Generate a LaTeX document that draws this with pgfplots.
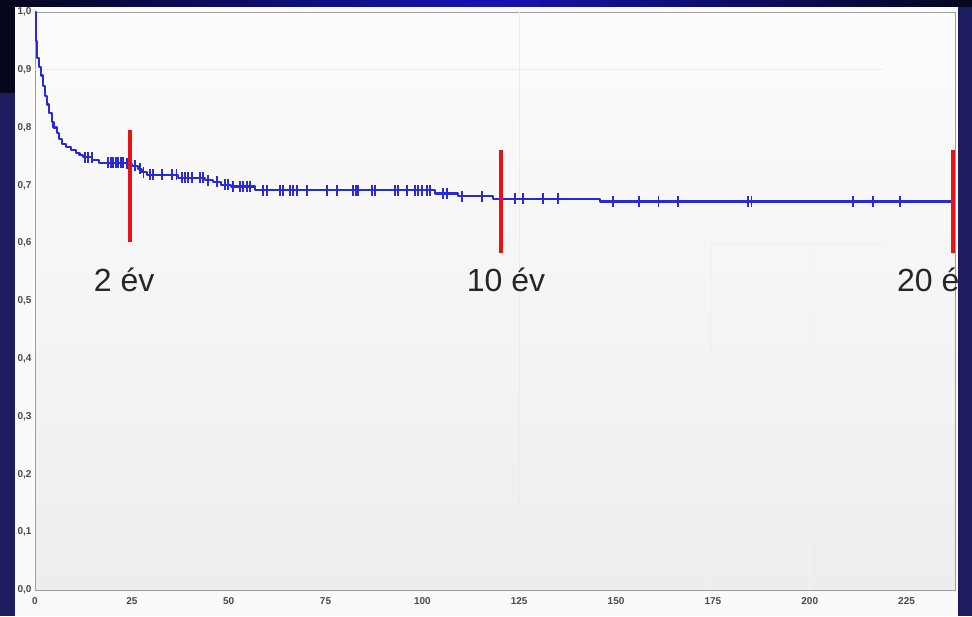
\documentclass[border=0pt]{standalone}
\usepackage{pgfplots}
\pgfplotsset{compat=1.18}
\usepackage{fontspec}
\setmainfont{Liberation Sans}
\setsansfont{Liberation Sans}
\definecolor{navyA}{HTML}{1C1C5E}
\definecolor{navyB}{HTML}{06061C}
\definecolor{bandblue}{HTML}{1414B4}
\definecolor{kmblue}{HTML}{2A2AD8}
\definecolor{redline}{HTML}{E81414}
\definecolor{ticktext}{HTML}{4A4A4A}
\begin{document}
\begin{tikzpicture}[x=1pt,y=1pt]
\path[use as bounding box, clip] (0,0) rectangle (972,616);
\fill[navyA] (0,0) rectangle (972,616);
\shade[left color=navyB, right color=navyB, middle color=bandblue] (0,606) rectangle (972,616);
\fill[white!96!gray] (15,0) rectangle (958,609);
\begin{axis}[
  at={(35pt,26pt)}, anchor=south west,
  width=920pt, height=578pt, scale only axis,
  xmin=0, xmax=237.5, ymin=0, ymax=1,
  xtick={0,25,50,75,100,125,150,175,200,225},
  ytick={0,0.1,0.2,0.3,0.4,0.5,0.6,0.7,0.8,0.9,1.0},
  major tick length=0pt,
  axis line style={gray!75, line width=0.9pt},
  axis background/.style={shade, top color=white!98!gray, bottom color=white!86!gray},
  tick label style={font=\fontsize{10}{11}\selectfont\bfseries, text=ticktext},
  /pgf/number format/assume math mode=true,
  yticklabel style={/pgf/number format/.cd, fixed, fixed zerofill, precision=1, use comma},
  xticklabel style={yshift=-4pt},
  clip=false,
]
% faint background lines
\draw[gray!15, line width=0.8pt] (axis cs:0,0.9) -- (axis cs:219,0.9);
\draw[gray!15, line width=0.8pt] (axis cs:125,1) -- (axis cs:125,0.12);
\draw[gray!12, line width=0.8pt] (axis cs:174.5,0.6) -- (axis cs:174.5,0);
\draw[gray!12, line width=0.8pt] (axis cs:174.5,0.6) -- (axis cs:219,0.6);
\draw[gray!10, line width=0.8pt] (axis cs:200,0.6) -- (axis cs:200,0);
% Kaplan-Meier curve
\addplot[kmblue, line width=2.2pt, const plot, line join=round] coordinates {
(0,1.0) (0.3,0.95) (0.6,0.92) (1.0,0.905) (1.5,0.89) (2.0,0.872) (2.6,0.855)
(3.1,0.84) (3.7,0.825) (4.3,0.81) (4.8,0.80) (5.6,0.79) (6.2,0.78) (7.0,0.772)
(8.0,0.766) (9.2,0.761) (10.5,0.756) (11.5,0.752) (12.4,0.749) (14.8,0.744)
(16.5,0.739) (23.8,0.737) (25.0,0.734) (26.5,0.729) (27.5,0.723) (28.9,0.718)
(36.9,0.713) (43.9,0.709) (45.9,0.706) (48.0,0.701) (50.6,0.698) (56.8,0.692)
(103.3,0.686) (109.2,0.681) (118.2,0.677) (145.8,0.672) (236.7,0.672)
};
% censored observations
\addplot[kmblue, only marks, mark=|, mark size=5.5pt, mark options={line width=1.6pt}] coordinates {
(12.9,0.749) (13.7,0.749) (14.7,0.749)
(18.8,0.739) (19.6,0.739) (20.1,0.739) (20.9,0.739) (21.4,0.739) (22.2,0.739) (22.7,0.739) (23.7,0.738)
(25.8,0.734) (27.1,0.729) (28.0,0.723)
(29.7,0.718) (30.5,0.718) (32.8,0.718) (35.4,0.718) (36.5,0.718)
(37.9,0.713) (38.7,0.713) (39.5,0.713) (40.5,0.713) (42.6,0.713) (43.4,0.713)
(44.7,0.709) (47.0,0.706) (49.0,0.701) (49.8,0.701)
(51.1,0.698) (52.9,0.698) (53.7,0.698) (54.7,0.698) (55.5,0.698)
(58.9,0.692) (59.9,0.692) (63.2,0.692) (64.0,0.692) (65.8,0.692) (66.6,0.692) (67.6,0.692)
(70.2,0.692) (75.4,0.692) (78.0,0.692) (82.1,0.692) (82.9,0.692) (83.4,0.692) (87.0,0.692)
(87.8,0.692) (92.9,0.692) (93.7,0.692) (96.0,0.692) (98.1,0.692) (98.9,0.692) (99.9,0.692)
(101.2,0.692) (102.0,0.692)
(105.3,0.686) (106.3,0.686) (110.2,0.681) (115.4,0.681)
(123.9,0.677) (126.0,0.677) (131.1,0.677) (135.0,0.677)
(149.2,0.672) (155.9,0.672) (161.0,0.672) (166.0,0.672) (184.0,0.672) (185.0,0.672)
(211.2,0.672) (216.3,0.672) (223.3,0.672)
};
% markers at 2, 10, 20 years
\addplot[redline, line width=4pt] coordinates {(24.5,0.602) (24.5,0.796)};
\addplot[redline, line width=4pt] coordinates {(120.3,0.583) (120.3,0.761)};
\addplot[redline, line width=4pt] coordinates {(237.0,0.583) (237.0,0.761)};
\node[font=\fontsize{32}{36}\selectfont, text=black!85] at (axis cs:23.0,0.536) {2 év};
\node[font=\fontsize{32}{36}\selectfont, text=black!85] at (axis cs:121.6,0.536) {10 év};
\node[font=\fontsize{32}{36}\selectfont, text=black!85, anchor=west, inner sep=0pt] at (axis cs:222.5,0.536) {20 év};
\end{axis}
\fill[navyB] (0,523) rectangle (15,616);
\fill[navyA] (0,0) rectangle (15,523);
\fill[navyA] (958,0) rectangle (972,609);
\end{tikzpicture}
\end{document}
